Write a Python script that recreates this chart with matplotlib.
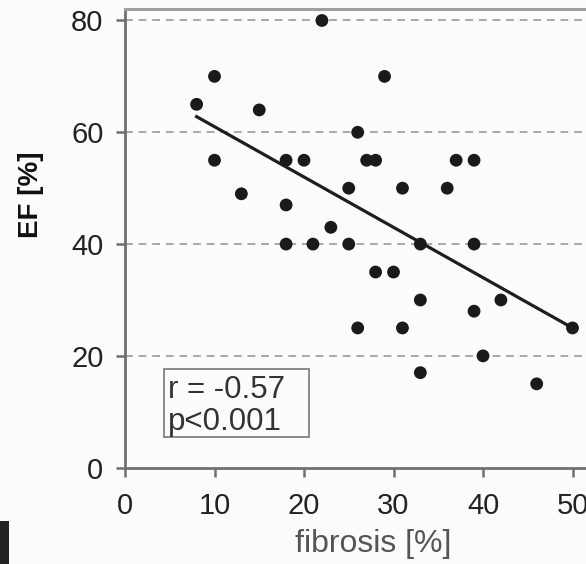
import matplotlib
matplotlib.use("Agg")
import matplotlib.pyplot as plt
from matplotlib.patches import Rectangle
import numpy as np

plt.rcParams['font.family'] = ['Liberation Sans', 'DejaVu Sans']

# Data
fibrosis = [22, 10, 29, 8, 15, 26, 10, 18, 20, 27, 28, 37, 39, 25, 31, 36, 13, 18, 23,
            18, 21, 25, 33, 39, 28, 30, 33, 42, 39, 26, 31, 50, 40, 33, 46]
ef = [80, 70, 70, 65, 64, 60, 55, 55, 55, 55, 55, 55, 55, 50, 50, 50, 49, 47, 43,
      40, 40, 40, 40, 40, 35, 35, 30, 30, 28, 25, 25, 25, 20, 17, 15]
fit_slope = -0.90
fit_intercept = 70.0
fit_range = [8, 50]
x_ticks = [0, 10, 20, 30, 40, 50]
y_ticks = [0, 20, 40, 60, 80]
stat_lines = ["r = -0.57", "p<0.001"]

W, H = 586, 564
fig = plt.figure(figsize=(W / 100, H / 100), dpi=100)
bg = '#fdfbfd'
fig.patch.set_facecolor(bg)

x0, y_bot, y_top = 125, 467.7, 9.3
ax = fig.add_axes([x0 / W, (H - y_bot) / H, (W - x0) / W, (y_bot - y_top) / H])
ax.set_facecolor(bg)
px_per_x = 8.95
ax.set_xlim(0, (W - x0) / px_per_x)
ax.set_ylim(0, 82)

# grid
for yv in y_ticks[1:]:
    ax.axhline(yv, color='#a8a8a8', lw=1.4, ls=(0, (4, 3)), zorder=1)

# regression line
xf = np.array(fit_range, dtype=float)
ax.plot(xf, fit_slope * xf + fit_intercept, color='#1e1e1e', lw=2.3, zorder=3)

# points
ax.scatter(fibrosis, ef, s=85, color='#1a1a1a', edgecolors='none', zorder=4)

# spines
ax.spines['right'].set_visible(False)
ax.spines['top'].set_color('#a0a0a0')
ax.spines['top'].set_linewidth(2.2)
for s in ['left', 'bottom']:
    ax.spines[s].set_color('#707070')
    ax.spines[s].set_linewidth(2.0)

ax.set_xticks(x_ticks)
ax.set_yticks(y_ticks)
ax.tick_params(axis='both', direction='out', length=6.5, width=1.8, color='#707070',
               labelsize=21, labelcolor='#222222')
ax.tick_params(axis='x', pad=11)
ax.tick_params(axis='y', pad=9)

ax.set_xlabel('fibrosis [%]', fontsize=23, color='#555555')
ax.xaxis.set_label_coords(0.538, -0.166)
ax.xaxis.label.set_va('center')
ax.set_ylabel('EF [%]', fontsize=20, color='#111111', fontweight='bold')
ax.yaxis.set_label_coords(-0.204, 0.595)
ax.yaxis.label.set_va('center')

# stats box
ax.add_patch(Rectangle((4.36, 5.5), 16.2, 12.15, facecolor='none', edgecolor='#8a8a8a',
                       lw=1.4, zorder=5))
ax.text(4.8, 12.4, stat_lines[0], fontsize=22.5, color='#333333', va='baseline', ha='left', zorder=6)
ax.text(4.8, 6.74, stat_lines[1], fontsize=22.5, color='#333333', va='baseline', ha='left', zorder=6)

# small dark artifact at bottom-left
fig.patches.append(Rectangle((0, 0), 9 / W, 43 / H, transform=fig.transFigure,
                             facecolor='#222222', edgecolor='none'))

fig.savefig('out.png', dpi=100, facecolor=bg)
